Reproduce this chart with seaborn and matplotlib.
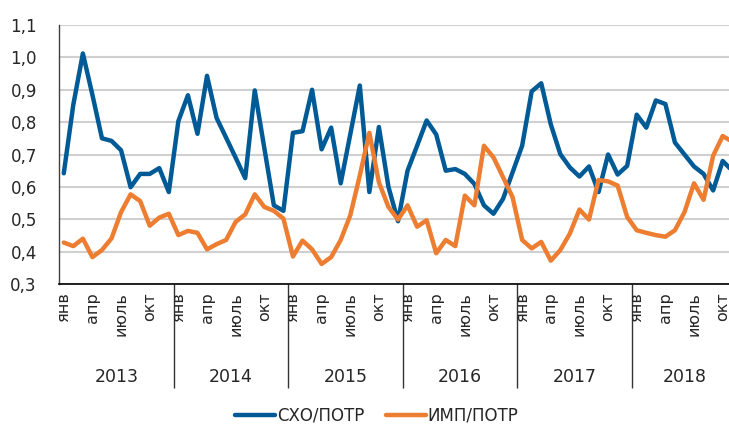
import numpy as np
import pandas as pd
import matplotlib
matplotlib.use('Agg')
import matplotlib.pyplot as plt
import seaborn as sns

# Данные: помесячно, янв 2013 - ноя 2018
years = ['2013', '2014', '2015', '2016', '2017', '2018']
months_in_year = [12, 12, 12, 12, 12, 11]
month_labels = ['янв', 'апр', 'июль', 'окт']
month_label_idx = [0, 3, 6, 9]
y_ticks = [0.3, 0.4, 0.5, 0.6, 0.7, 0.8, 0.9, 1.0, 1.1]
y_tick_labels = ['0,3', '0,4', '0,5', '0,6', '0,7', '0,8', '0,9', '1,0', '1,1']

sho_potr = [
    0.642, 0.854, 1.012, 0.884, 0.750, 0.742, 0.713, 0.599, 0.640, 0.640, 0.658, 0.584,
    0.803, 0.883, 0.764, 0.943, 0.813, 0.752, 0.690, 0.627, 0.898, 0.720, 0.543, 0.526,
    0.767, 0.772, 0.900, 0.716, 0.783, 0.611, 0.762, 0.913, 0.584, 0.785, 0.600, 0.494,
    0.650, 0.727, 0.805, 0.762, 0.650, 0.655, 0.640, 0.609, 0.543, 0.517, 0.563, 0.645,
    0.727, 0.895, 0.920, 0.793, 0.701, 0.660, 0.632, 0.663, 0.584, 0.700, 0.638, 0.665,
    0.823, 0.783, 0.867, 0.856, 0.737, 0.700, 0.663, 0.640, 0.589, 0.680, 0.650,
]
imp_potr = [
    0.428, 0.417, 0.440, 0.383, 0.405, 0.441, 0.522, 0.577, 0.556, 0.480, 0.505, 0.517,
    0.451, 0.464, 0.458, 0.407, 0.423, 0.436, 0.492, 0.515, 0.577, 0.538, 0.526, 0.502,
    0.385, 0.434, 0.407, 0.362, 0.383, 0.436, 0.512, 0.635, 0.767, 0.614, 0.538, 0.499,
    0.543, 0.477, 0.497, 0.395, 0.436, 0.417, 0.573, 0.543, 0.727, 0.691, 0.630, 0.568,
    0.436, 0.410, 0.430, 0.372, 0.405, 0.456, 0.530, 0.499, 0.621, 0.617, 0.604, 0.507,
    0.466, 0.458, 0.451, 0.446, 0.466, 0.522, 0.611, 0.560, 0.696, 0.757, 0.740,
]

df = pd.DataFrame({'m': np.arange(len(sho_potr)),
                   'СХО/ПОТР': sho_potr,
                   'ИМП/ПОТР': imp_potr})
df_long = df.melt(id_vars='m', var_name='ряд', value_name='значение')

sns.set_theme(style='white')
plt.rcParams['font.family'] = ['DejaVu Sans']
text_color = '#262626'

fig = plt.figure(figsize=(7.29, 4.24), dpi=100)
# ось выходит немного за правый край картинки, как в оригинале
ax = fig.add_axes([59 / 729, 1 - 284 / 424, (737 - 59) / 729, (284 - 25) / 424])

sns.lineplot(data=df_long, x='m', y='значение', hue='ряд',
             palette=['#005A96', '#ED7D31'], linewidth=3.2, ax=ax)
for line in ax.get_lines():
    line.set_solid_joinstyle('round')
    line.set_solid_capstyle('round')

ax.set_xlim(-0.5, len(sho_potr) - 0.5)
ax.set_ylim(0.3, 1.1)
ax.set_yticks(y_ticks)
ax.set_yticklabels(y_tick_labels, fontsize=12, color=text_color)
ax.set_xticks([])
ax.set_xlabel('')
ax.set_ylabel('')
ax.tick_params(axis='y', length=0, pad=16)
ax.grid(axis='y', color='#d0d0d0', linewidth=1.5)
ax.set_axisbelow(True)
for s in ['top', 'right']:
    ax.spines[s].set_visible(False)
ax.spines['left'].set_color('#404040')
ax.spines['left'].set_linewidth(1)
ax.spines['bottom'].set_color('#000000')
ax.spines['bottom'].set_linewidth(1.2)

# подписи месяцев и лет
trans = ax.get_xaxis_transform()
start = 0
bounds = [-0.5]
for yr, n in zip(years, months_in_year):
    for lbl, k in zip(month_labels, month_label_idx):
        if k < n:
            ax.text(start + k, -0.03, lbl, rotation=90, ha='center', va='top',
                    fontsize=11.5, color=text_color, transform=trans)
    ax.text(start + (n - 1) / 2, -0.36, yr, ha='center', va='center',
            fontsize=12.5, color=text_color, transform=trans)
    start += n
    bounds.append(start - 0.5)
ax.vlines(bounds[1:-1], -0.402, 0, transform=trans, colors='#333333',
          linewidth=1, clip_on=False)

sns.move_legend(ax, 'center', bbox_to_anchor=(377 / 729, 1 - 416 / 424),
                bbox_transform=fig.transFigure, ncol=2, frameon=False, title=None,
                fontsize=12, handlelength=2.4, handletextpad=0.1, columnspacing=1.3)
for t in ax.get_legend().get_texts():
    t.set_color(text_color)

fig.savefig('out.png', dpi=100)
